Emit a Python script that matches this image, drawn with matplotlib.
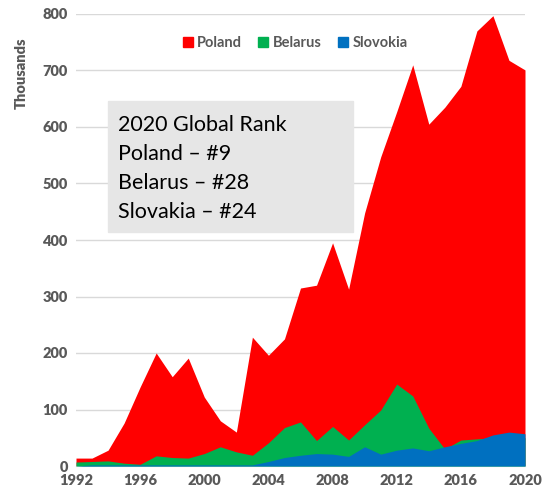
import matplotlib
matplotlib.use('Agg')
import numpy as np
import matplotlib.pyplot as plt
from matplotlib.patches import Patch, Rectangle

years = np.arange(1992, 2021)

# production, thousands
poland = [14, 14, 28, 76, 140, 200, 158, 191, 122, 80, 60, 228, 196, 225,
          315, 320, 395, 313, 448, 547, 627, 710, 605, 635, 672, 770, 797, 718, 701]
belarus = [7, 8, 9, 5, 3, 18, 15, 14, 22, 34, 25, 19, 41, 68,
           78, 45, 70, 46, 73, 99, 145, 124, 67, 30, 46, 48, 50, 52, 50]
slovakia = [0, 2, 2, 2, 2, 2, 2, 2, 2, 2, 2, 2, 8, 15,
            19, 22, 21, 17, 34, 21, 28, 32, 27, 34, 40, 45, 55, 60, 57]

rank_lines = ["2020 Global Rank", "Poland \u2013 #9", "Belarus \u2013 #28", "Slovakia \u2013 #24"]

plt.rcParams['font.family'] = ['Lato', 'DejaVu Sans']
gray = '#595959'

fig = plt.figure(figsize=(5.43, 4.99), dpi=100)
ax = fig.add_axes([76 / 543, 1 - 466 / 499, 449 / 543, 452 / 499])

ax.fill_between(years, poland, color='#FF0000', lw=0, zorder=2)
ax.fill_between(years, belarus, color='#00B050', lw=0, zorder=3)
ax.fill_between(years, slovakia, color='#0070C0', lw=0, zorder=4)

ax.set_xlim(1992, 2020)
ax.set_ylim(0, 800)
ax.set_xticks(np.arange(1992, 2021, 4))
ax.set_yticks(np.arange(0, 801, 100))
ax.grid(axis='y', color='#d9d9d9', lw=1)
ax.set_axisbelow(True)
for s in ['top', 'right', 'left']:
    ax.spines[s].set_visible(False)
ax.spines['bottom'].set_color('#d9d9d9')
ax.tick_params(length=0, labelsize=10.5, labelcolor=gray, pad=6)
for lbl in ax.get_xticklabels() + ax.get_yticklabels():
    lbl.set_fontweight('heavy')
ax.set_ylabel('Thousands', fontsize=10.5, fontweight='heavy', color=gray)
ax.yaxis.set_label_coords(-0.108, 0.87)

handles = [Patch(color='#FF0000', label='Poland'),
           Patch(color='#00B050', label='Belarus'),
           Patch(color='#0070C0', label='Slovokia')]
leg = fig.legend(handles=handles, loc='center', bbox_to_anchor=(295 / 543, 1 - 43 / 499),
                 ncol=3, frameon=False, handlelength=0.7, handleheight=0.7,
                 handletextpad=0.3, columnspacing=1.1,
                 prop={'size': 10.5, 'weight': 'bold'})
for t in leg.get_texts():
    t.set_color(gray)

fig.patches.append(Rectangle((108 / 543, 1 - 232 / 499), 245 / 543, 131 / 499,
                             transform=fig.transFigure, color='#e6e6e6', zorder=5))
for i, line in enumerate(rank_lines):
    fig.text(118 / 543, 1 - (131 + 29 * i) / 499, line, fontsize=15.5,
             color='black', va='baseline', zorder=6)

fig.savefig('out.png', dpi=100)
